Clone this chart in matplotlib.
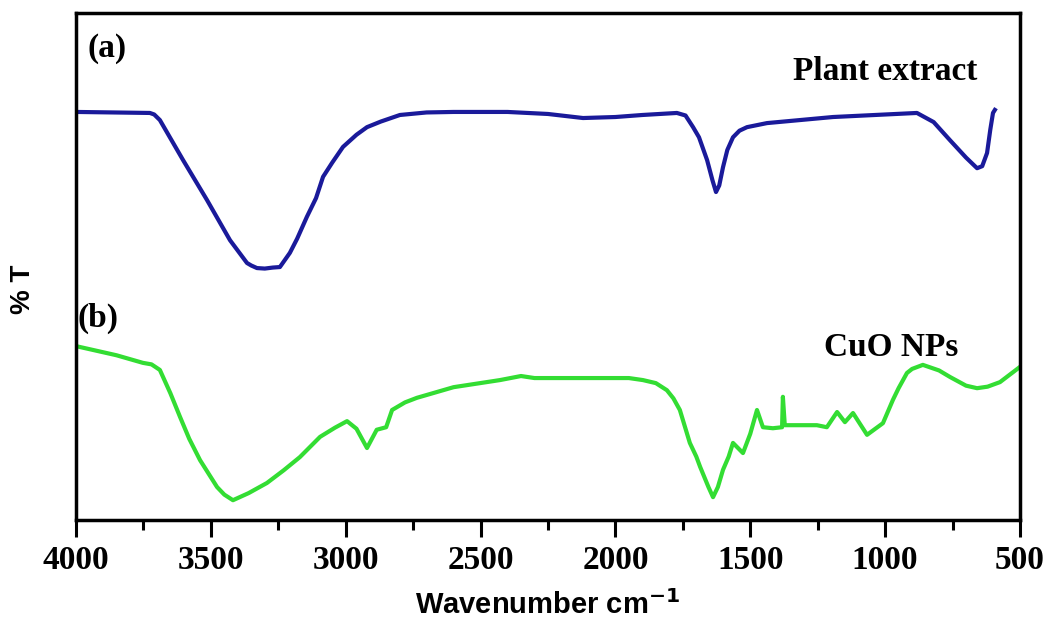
"""
Spectres FTIR : extrait de plante (a) et nanoparticules CuO (b).
"""

import matplotlib
matplotlib.use("Agg")
import matplotlib.pyplot as plt
from matplotlib.ticker import MultipleLocator

# (a) extrait de plante
wn_plant = [4000, 3726, 3710, 3689, 3603, 3514, 3429, 3366, 3350, 3329, 3300,
            3270, 3244, 3207, 3180, 3144, 3110, 3084, 3050, 3010, 2960, 2921,
            2870, 2799, 2700, 2600, 2400, 2250, 2120, 2000, 1900, 1772, 1740,
            1712, 1690, 1660, 1640, 1627, 1615, 1601, 1585, 1564, 1540, 1512,
            1438, 1193, 882, 820, 759, 700, 659, 640, 622, 610, 600, 593]
t_plant = [80.5, 80.3, 80.0, 78.9, 71.0, 63.1, 55.2, 50.7, 50.2, 49.7, 49.6,
           49.8, 49.9, 52.7, 55.5, 59.8, 63.5, 67.7, 70.5, 73.6, 76.0, 77.5,
           78.6, 79.9, 80.4, 80.5, 80.5, 80.1, 79.3, 79.5, 79.9, 80.3, 79.8,
           77.5, 75.5, 71.0, 67.0, 64.7, 66.0, 69.6, 73.0, 75.5, 76.8, 77.5,
           78.3, 79.5, 80.3, 78.5, 74.9, 71.5, 69.4, 69.8, 72.4, 77.0, 80.3, 80.9]

# (b) CuO NPs
wn_cuo = [4000, 3850, 3752, 3720, 3689, 3650, 3614, 3580, 3540, 3477, 3450,
          3418, 3360, 3292, 3230, 3170, 3095, 3040, 2995, 2960, 2921, 2885,
          2850, 2828, 2780, 2736, 2600, 2428, 2350, 2300, 2057, 1950, 1898,
          1850, 1809, 1785, 1761, 1724, 1700, 1686, 1655, 1638, 1620, 1601,
          1580, 1564, 1527, 1500, 1475, 1453, 1416, 1382, 1379, 1372, 1253,
          1216, 1178, 1149, 1119, 1067, 1008, 971, 950, 919, 900, 860, 800,
          759, 700, 659, 620, 574, 500]
t_cuo = [34.3, 32.5, 31.0, 30.7, 29.6, 25.0, 20.3, 16.0, 11.8, 6.5, 5.0,
         3.9, 5.3, 7.3, 9.8, 12.4, 16.4, 18.2, 19.5, 18.0, 14.2, 17.8,
         18.3, 21.7, 23.2, 24.1, 26.2, 27.6, 28.4, 28.0, 28.0, 28.0, 27.6,
         27.0, 25.6, 24.0, 21.7, 15.2, 12.5, 10.5, 6.5, 4.5, 6.5, 9.9,
         12.5, 15.2, 13.2, 17.0, 21.7, 18.3, 18.1, 18.3, 24.3, 18.7, 18.7,
         18.3, 21.3, 19.3, 21.1, 16.8, 19.1, 23.7, 26.0, 29.0, 29.8, 30.6, 29.5,
         28.2, 26.5, 26.0, 26.3, 27.2, 30.2]

SERIF = ["Liberation Serif", "DejaVu Serif"]
SANS = ["Liberation Sans", "DejaVu Sans"]

fig = plt.figure(figsize=(10.54, 6.24), dpi=100)
ax = fig.add_axes([0.0721, 0.1667, 0.8956, 0.8123])

ax.plot(wn_plant, t_plant, color="#1a1a9a", lw=3, solid_joinstyle="round")
ax.plot(wn_cuo, t_cuo, color="#33dd33", lw=3, solid_joinstyle="round")

ax.set_xlim(4000, 500)
ax.set_ylim(0, 100)
ax.xaxis.set_major_locator(MultipleLocator(500))
ax.xaxis.set_minor_locator(MultipleLocator(250))
ax.set_yticks([])
ax.tick_params(axis="x", which="major", direction="out", length=12, width=2.2, pad=6)
ax.tick_params(axis="x", which="minor", direction="out", length=7, width=2.2)
for sp in ax.spines.values():
    sp.set_linewidth(2.5)
for lbl in ax.get_xticklabels():
    lbl.set_family(SERIF)
    lbl.set_fontweight("bold")
    lbl.set_fontsize(24)

ax.set_xlabel("Wavenumber cm$^{\\mathbf{-1}}$", family=SANS, fontweight="bold",
              fontsize=21)
ax.xaxis.set_label_coords(0.5, -0.138)
ax.set_ylabel("% T", family=SANS, fontweight="bold", fontsize=20)
ax.yaxis.set_label_coords(-0.042, 0.456)

# annotations
txt = dict(family=SERIF, fontweight="bold", fontsize=24, transform=ax.transAxes)
ax.text(0.012, 0.93, "(a)", ha="left", va="center", **txt)
ax.text(0.955, 0.885, "Plant extract", ha="right", va="center", **txt)
ax.text(0.002, 0.397, "(b)", ha="left", va="center", **txt)
ax.text(0.935, 0.34, "CuO NPs", ha="right", va="center", **txt)

fig.savefig("out.png", dpi=100)
